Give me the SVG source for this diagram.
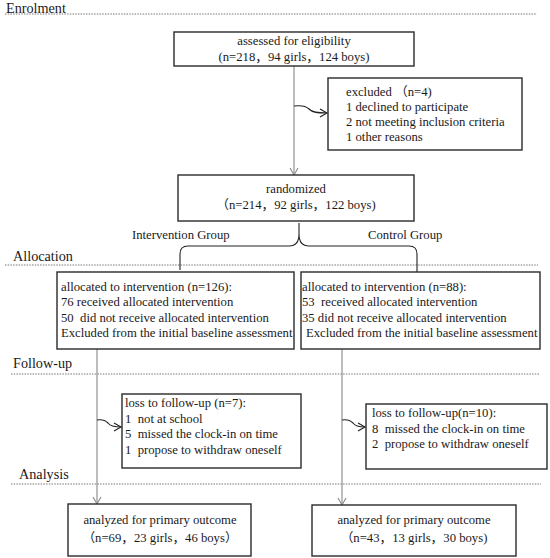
<svg xmlns="http://www.w3.org/2000/svg" width="550" height="558" viewBox="0 0 550 558" xml:space="preserve">
<style>
.bx{fill:#fff;stroke:#2a2a2a;stroke-width:1.4}
.t{font-family:"Liberation Serif","Noto Sans CJK SC",serif;font-size:12.7px;fill:#1a1a1a;white-space:pre}
.c{text-anchor:middle}
.h{font-family:"Liberation Serif",serif;font-size:14.2px;fill:#1a1a1a}
.dot{stroke:#777;stroke-width:1;stroke-dasharray:1.5 1.2}
.ln{fill:none;stroke:#888;stroke-width:1.1}
.cv{fill:none;stroke:#222;stroke-width:1.1}
</style>
<defs>
<marker id="ag" markerWidth="10" markerHeight="10" refX="8" refY="5" orient="auto" markerUnits="userSpaceOnUse"><path d="M1,1 L8,5 L1,9" fill="none" stroke="#888" stroke-width="1.1"/></marker>
<marker id="ak" markerWidth="10" markerHeight="10" refX="8" refY="5" orient="auto" markerUnits="userSpaceOnUse"><path d="M1,1 L8,5 L1,9" fill="none" stroke="#222" stroke-width="1.1"/></marker>
</defs>
<rect width="550" height="558" fill="#fff"/>
<g id="sections">
<line class="dot" x1="5" y1="14" x2="537" y2="14"/>
<text class="h" x="6" y="13">Enrolment</text>
<line class="dot" x1="5" y1="265" x2="538" y2="265"/>
<text class="h" x="13" y="261">Allocation</text>
<line class="dot" x1="11" y1="374" x2="540" y2="374"/>
<text class="h" x="13" y="368">Follow-up</text>
<line class="dot" x1="11" y1="484" x2="541" y2="484"/>
<text class="h" x="19" y="479">Analysis</text>
</g>
<g id="connectors">
<line class="ln" x1="294" y1="66" x2="294" y2="175" marker-end="url(#ag)"/>
<path class="cv" d="M294,106 C302,105 306,106 309,109 C312,112 316,113 327,113" marker-end="url(#ak)"/>
<path fill="none" stroke="#222" stroke-width="1.1" d="M180,270 L180,254 Q180,246 188,246 L289,246 Q299,246 299,234 L299,223 M299,234 Q299,246 309,246 L409,246 Q417,246 417,254 L417,272"/>
<line class="ln" x1="97" y1="349" x2="97" y2="504" marker-end="url(#ag)"/>
<line class="ln" x1="342" y1="349" x2="342" y2="505" marker-end="url(#ag)"/>
<path class="cv" d="M97,420 C103,419 106,421 108,423 C110,426 114,427 121,427" marker-end="url(#ak)"/>
<path class="cv" d="M342,420 C348,419 351,421 353,423 C355,426 359,427 365,427" marker-end="url(#ak)"/>
</g>
<g id="assessed">
<rect class="bx" x="174" y="32" width="240" height="34"/>
<text class="t c" x="294" y="45">assessed for eligibility</text>
<text class="t c" x="294" y="61">(n=218，94 girls，124 boys)</text>
</g>
<g id="excluded">
<rect class="bx" x="328" y="78" width="194" height="72"/>
<text class="t" x="346" y="96">excluded （n=4)</text>
<text class="t" x="346" y="111">1 declined to participate</text>
<text class="t" x="346" y="126">2 not meeting inclusion criteria</text>
<text class="t" x="346" y="141">1 other reasons</text>
</g>
<g id="randomized">
<rect class="bx" x="178" y="175" width="236" height="46"/>
<text class="t c" x="296" y="193">randomized</text>
<text class="t c" x="296" y="209">（n=214，92 girls，122 boys)</text>
</g>
<g id="group-labels">
<text class="t" x="132" y="239">Intervention Group</text>
<text class="t" x="368" y="239">Control Group</text>
</g>
<g id="alloc-intervention">
<rect class="bx" x="57" y="272" width="237" height="77"/>
<text class="t" x="61" y="291">allocated to intervention (n=126):</text>
<text class="t" x="61" y="306">76 received allocated intervention</text>
<text class="t" x="61" y="322">50  did not receive allocated intervention</text>
<text class="t" x="61" y="337">Excluded from the initial baseline assessment</text>
</g>
<g id="alloc-control">
<rect class="bx" x="301" y="272" width="239" height="77"/>
<text class="t" x="302" y="291">allocated to intervention (n=88):</text>
<text class="t" x="302" y="306">53  received allocated intervention</text>
<text class="t" x="302" y="322">35 did not receive allocated intervention</text>
<text class="t" x="306" y="337">Excluded from the initial baseline assessment</text>
</g>
<g id="loss-intervention">
<rect class="bx" x="122" y="394" width="179" height="74"/>
<text class="t" x="125" y="407">loss to follow-up (n=7):</text>
<text class="t" x="125" y="423">1  not at school</text>
<text class="t" x="125" y="438">5  missed the clock-in on time</text>
<text class="t" x="125" y="454">1  propose to withdraw oneself</text>
</g>
<g id="loss-control">
<rect class="bx" x="366" y="404" width="181" height="65"/>
<text class="t" x="372" y="417">loss to follow-up(n=10):</text>
<text class="t" x="372" y="433">8  missed the clock-in on time</text>
<text class="t" x="372" y="448">2  propose to withdraw oneself</text>
</g>
<g id="analysis-intervention">
<rect class="bx" x="68" y="504" width="183" height="52"/>
<text class="t c" x="160" y="524">analyzed for primary outcome</text>
<text class="t c" x="160" y="542">（n=69，23 girls，46 boys）</text>
</g>
<g id="analysis-control">
<rect class="bx" x="312" y="505" width="204" height="51"/>
<text class="t c" x="414" y="524">analyzed for primary outcome</text>
<text class="t c" x="414" y="542">（n=43，13 girls，30 boys)</text>
</g>
</svg>
